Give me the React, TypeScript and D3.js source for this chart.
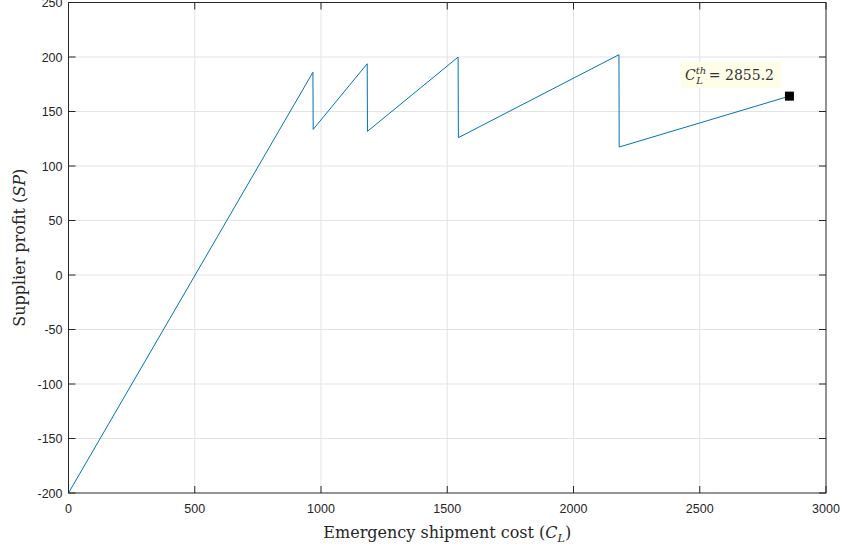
import { useEffect, useRef } from 'react'
import * as d3 from 'd3'

// piecewise supplier profit curve
const costs = [0, 968, 969, 1183, 1184, 1543, 1544, 2180, 2181, 2855.2]
const profits = [-200, 186, 133.6, 193.8, 131.8, 199.9, 126, 202.1, 117.4, 164.1]
const xTicks = [0, 500, 1000, 1500, 2000, 2500, 3000]
const yTicks = [-200, -150, -100, -50, 0, 50, 100, 150, 200, 250]
const threshold = { cost: 2855.2, profit: 164.1, label: '2855.2' }

export default function App() {
  const ref = useRef<SVGSVGElement | null>(null)
  useEffect(() => {
    if (!ref.current) return
    const svg = d3.select(ref.current)
    svg.selectAll('*').remove()
    const width = 843
    const height = 549
    const margin = { top: 2.5, right: 17, bottom: 56, left: 68.5 }
    const axisColor = '#262626'
    const x = d3.scaleLinear().domain([0, 3000]).range([margin.left, width - margin.right])
    const y = d3.scaleLinear().domain([-200, 250]).range([height - margin.bottom, margin.top])
    const [x0, x1] = x.range()
    const [y0, y1] = y.range()

    // grid
    const grid = svg.append('g').attr('stroke', '#e3e3e3').attr('stroke-width', 1)
    grid
      .selectAll('line.vx')
      .data(xTicks.slice(1, -1))
      .enter()
      .append('line')
      .attr('x1', (d) => x(d))
      .attr('x2', (d) => x(d))
      .attr('y1', y1)
      .attr('y2', y0)
    grid
      .selectAll('line.hy')
      .data(yTicks.slice(1, -1))
      .enter()
      .append('line')
      .attr('x1', x0)
      .attr('x2', x1)
      .attr('y1', (d) => y(d))
      .attr('y2', (d) => y(d))

    // curve
    const pts = costs.map((c, i) => [c, profits[i]] as [number, number])
    svg
      .append('path')
      .datum(pts)
      .attr('fill', 'none')
      .attr('stroke', '#0072BD')
      .attr('stroke-width', 1)
      .attr(
        'd',
        d3
          .line<[number, number]>()
          .x((d) => x(d[0]))
          .y((d) => y(d[1]))
      )

    // box + ticks
    const box = svg.append('g').attr('stroke', axisColor).attr('stroke-width', 1).attr('fill', 'none')
    box
      .append('rect')
      .attr('x', x0)
      .attr('y', y1)
      .attr('width', x1 - x0)
      .attr('height', y0 - y1)
    const tl = 7
    xTicks.forEach((t) => {
      box.append('line').attr('x1', x(t)).attr('x2', x(t)).attr('y1', y0).attr('y2', y0 - tl)
      box.append('line').attr('x1', x(t)).attr('x2', x(t)).attr('y1', y1).attr('y2', y1 + tl)
    })
    yTicks.forEach((t) => {
      box.append('line').attr('x1', x0).attr('x2', x0 + tl).attr('y1', y(t)).attr('y2', y(t))
      box.append('line').attr('x1', x1).attr('x2', x1 - tl).attr('y1', y(t)).attr('y2', y(t))
    })

    const tickFont = '"Liberation Sans", Arial, sans-serif'
    svg
      .append('g')
      .selectAll('text')
      .data(xTicks)
      .enter()
      .append('text')
      .attr('x', (d) => x(d))
      .attr('y', y0 + 20)
      .attr('text-anchor', 'middle')
      .attr('font-family', tickFont)
      .attr('font-size', 12.5)
      .attr('fill', axisColor)
      .text((d) => String(d))
    svg
      .append('g')
      .selectAll('text')
      .data(yTicks)
      .enter()
      .append('text')
      .attr('x', x0 - 6)
      .attr('y', (d) => y(d) + 4.5)
      .attr('text-anchor', 'end')
      .attr('font-family', tickFont)
      .attr('font-size', 12.5)
      .attr('fill', axisColor)
      .text((d) => String(d))

    const serif = '"DejaVu Serif", "Liberation Serif", serif'
    const xl = svg
      .append('text')
      .attr('x', (x0 + x1) / 2)
      .attr('y', 538)
      .attr('text-anchor', 'middle')
      .attr('font-family', serif)
      .attr('font-size', 16)
      .attr('fill', axisColor)
    xl.append('tspan').text('Emergency shipment cost (')
    xl.append('tspan').attr('font-style', 'italic').text('C')
    xl.append('tspan').attr('font-style', 'italic').attr('font-size', 11).attr('dy', 4).text('L')
    xl.append('tspan').attr('dy', -4).text(')')

    const yl = svg
      .append('text')
      .attr('transform', `translate(25,${(y0 + y1) / 2}) rotate(-90)`)
      .attr('text-anchor', 'middle')
      .attr('font-family', serif)
      .attr('font-size', 16)
      .attr('fill', axisColor)
    yl.append('tspan').text('Supplier profit (')
    yl.append('tspan').attr('font-style', 'italic').text('SP')
    yl.append('tspan').text(')')

    // threshold annotation
    svg
      .append('rect')
      .attr('x', x(threshold.cost) - 9 / 2)
      .attr('y', y(threshold.profit) - 9 / 2)
      .attr('width', 9)
      .attr('height', 9)
      .attr('fill', '#000')
    svg
      .append('rect')
      .attr('x', 681)
      .attr('y', 62)
      .attr('width', 100)
      .attr('height', 26)
      .attr('fill', '#fdfde8')
    const ann = svg
      .append('text')
      .attr('x', 685)
      .attr('y', 80)
      .attr('font-family', serif)
      .attr('font-size', 14)
      .attr('fill', '#333')
    ann.append('tspan').attr('font-style', 'italic').text('C')
    ann.append('tspan').attr('font-style', 'italic').attr('font-size', 10).attr('dy', -6).text('th')
    ann.append('tspan').attr('font-style', 'italic').attr('font-size', 10).attr('dx', -10).attr('dy', 10).text('L')
    ann.append('tspan').attr('dy', -4).attr('dx', 6).text('= ' + threshold.label)
  }, [])
  return (
    <svg
      ref={ref}
      width={843}
      height={549}
      style={{ position: 'absolute', left: 0, top: 0, overflow: 'visible' }}
    />
  )
}
